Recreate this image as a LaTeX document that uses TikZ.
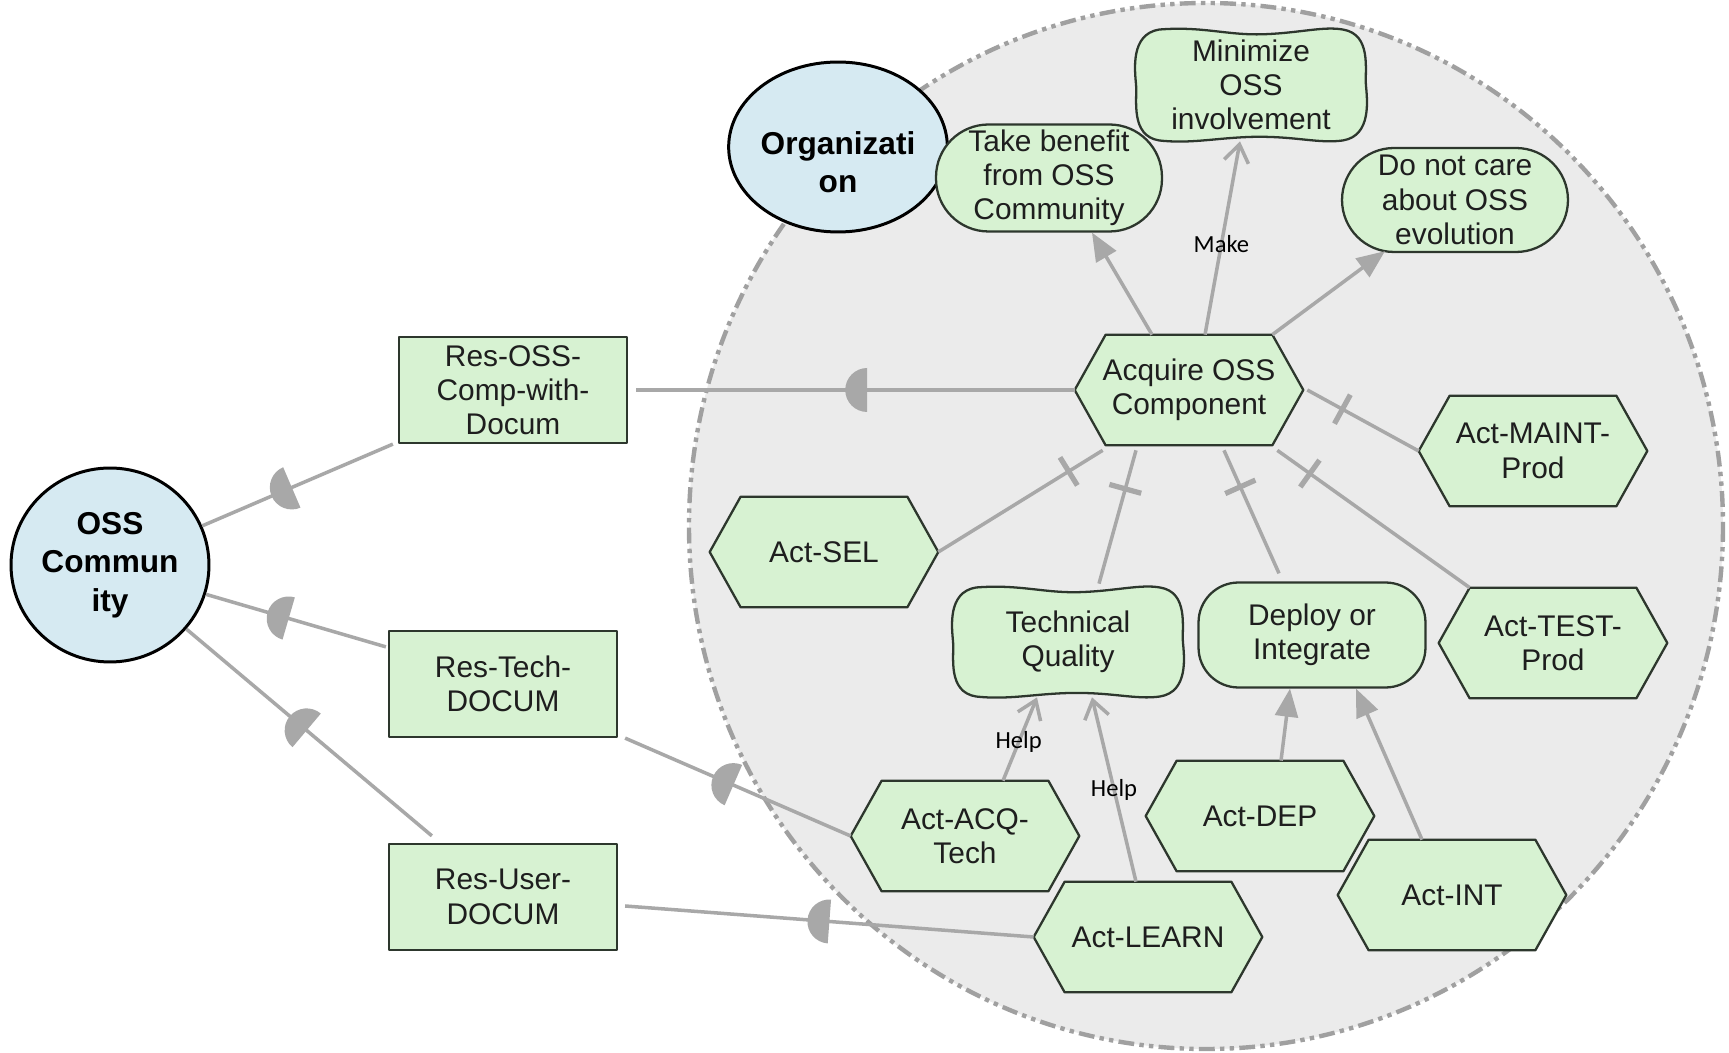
\documentclass[tikz,border=0pt]{standalone}
\usepackage{fontspec}
\setmainfont{Liberation Sans}
\newfontfamily\lblfont{Carlito}
\usetikzlibrary{arrows.meta,decorations.markings,shapes.geometric,calc}
\definecolor{gfill}{RGB}{215,242,210}
\definecolor{gline}{RGB}{45,55,45}
\definecolor{bfill}{RGB}{214,234,242}
\definecolor{bgfill}{RGB}{235,235,235}
\definecolor{conngray}{RGB}{168,168,168}
\definecolor{dashgray}{RGB}{160,160,160}
\definecolor{txt}{RGB}{30,30,30}
\pgfdeclarelayer{bglayer}
\pgfdeclarelayer{shapelayer}
\pgfsetlayers{bglayer,shapelayer,main}
\newcommand\hexshape[1]{%
  \begin{pgfonlayer}{shapelayer}
  \filldraw[shapeline] ([xshift=0.62cm]#1.north west) -- ([xshift=-0.62cm]#1.north east) -- (#1.east)
    -- ([xshift=-0.62cm]#1.south east) -- ([xshift=0.62cm]#1.south west) -- (#1.west) -- cycle;
  \end{pgfonlayer}}
\newcommand\cloudshape[3]{%
  \begin{pgfonlayer}{shapelayer}
  \filldraw[shapeline, shift={(#1.center)}, x=#2, y=#3]
      (-0.76,0.94) .. controls (-0.4,1) and (-0.2,0.84) .. (0.1,0.86)
      .. controls (0.4,0.88) and (0.6,1) .. (0.76,0.94)
      .. controls (1,0.86) and (0.94,0.24) .. (0.95,0)
      .. controls (0.96,-0.24) and (1,-0.86) .. (0.76,-0.94)
      .. controls (0.56,-1) and (0.36,-0.86) .. (0,-0.88)
      .. controls (-0.3,-0.9) and (-0.5,-1) .. (-0.76,-0.94)
      .. controls (-1,-0.86) and (-0.94,-0.24) .. (-0.95,0)
      .. controls (-0.96,0.24) and (-1,0.86) .. (-0.76,0.94) -- cycle;
  \end{pgfonlayer}}
\begin{document}
\begin{tikzpicture}[x=0.02cm,y=-0.02cm,
  base/.style={inner sep=0pt, align=center, text=txt, font=\fontsize{17}{19.5}\selectfont},
  actor/.style={shape=ellipse, draw=black, line width=1.7pt, fill=bfill, inner sep=0pt, align=center, text=black, font=\fontsize{18}{22}\selectfont\bfseries},
  shapeline/.style={fill=gfill, draw=gline, line width=1.3pt, line join=round},
  resbox/.style={base, shapeline, minimum width=4.56cm, minimum height=2.12cm},
  goalbox/.style={base, shapeline, rounded corners=#1, minimum width=4.52cm, minimum height=2.1cm},
  hexbox/.style={base, minimum width=4.56cm, minimum height=2.2cm},
  cloudbox/.style={base, minimum width=4.64cm, minimum height=#1},
  conn/.style={draw=conngray, line width=2pt},
  fillarrow/.style={conn, -{Triangle[length=16pt,width=13pt]}},
  openarrow/.style={conn, -{Straight Barb[length=10pt,width=14pt]}},
  lbl/.style={font=\lblfont\fontsize{14}{16}\selectfont, text=black, inner sep=1pt},
  dmark/.style={postaction={decorate, decoration={markings, mark=at position #1 with {\fill[conngray] (0,0.44cm) arc[start angle=90, end angle=270, radius=0.44cm] -- cycle;}}}},
  tickmark/.style={postaction={decorate, decoration={markings, mark=at position 0.8cm with {\draw[conngray, line width=3pt] (0,-0.33cm) -- (0,0.33cm);}}}},
]
\useasboundingbox (0,0) rectangle (1729,1053);
\begin{pgfonlayer}{bglayer}
\fill[white] (0,0) rectangle (1729,1053);
% organization boundary
\fill[bgfill] (1206,526) ellipse [x radius=517, y radius=523];
\draw[dashgray, line width=2.5pt, dash pattern=on 9pt off 3pt on 2.5pt off 3pt on 2.5pt off 3pt] (1206,526) ellipse [x radius=517, y radius=523];
\end{pgfonlayer}

% actors
\node[actor, minimum width=3.88cm, minimum height=3.4cm] (org) at (838,147) {\raisebox{-15pt}[0pt][0pt]{\begin{tabular}{@{}c@{}}Organizati\\on\end{tabular}}};
\node[actor, minimum width=3.96cm, minimum height=3.88cm] (osscomm) at (110,565) {OSS\\Commun\\ity};

% goals and softgoals
\node[cloudbox=2.24cm] (minimize) at (1251,85) {Minimize\\OSS\\involvement};
\cloudshape{minimize}{2.42cm}{1.18cm}
\node[goalbox=1.05cm, minimum height=2.14cm] (takeben) at (1049,178) {Take benefit\\from OSS\\Community};
\node[goalbox=1.04cm, minimum height=2.08cm] (donot) at (1455,200) {Do not care\\about OSS\\evolution};
\node[cloudbox=2.2cm] (techq) at (1068,642) {Technical\\Quality};
\cloudshape{techq}{2.42cm}{1.16cm}
\node[goalbox=0.8cm, minimum width=4.54cm] (deploy) at (1312,635) {Deploy or\\Integrate};

% tasks
\node[hexbox] (acquire) at (1189,390) {Acquire OSS\\Component};
\hexshape{acquire}
\node[hexbox] (actsel) at (824,552) {Act-SEL};
\hexshape{actsel}
\node[hexbox] (actmaint) at (1533,451) {Act-MAINT-\\Prod};
\hexshape{actmaint}
\node[hexbox] (acttest) at (1553,643) {Act-TEST-\\Prod};
\hexshape{acttest}
\node[hexbox] (actacq) at (965,836) {Act-ACQ-\\Tech};
\hexshape{actacq}
\node[hexbox] (actlearn) at (1148,937) {Act-LEARN};
\hexshape{actlearn}
\node[hexbox] (actdep) at (1260,816) {Act-DEP};
\hexshape{actdep}
\node[hexbox] (actint) at (1452,895) {Act-INT};
\hexshape{actint}

% resources
\node[resbox] (resoss) at (513,390) {Res-OSS-\\Comp-with-\\Docum};
\node[resbox] (restech) at (503,684) {Res-Tech-\\DOCUM};
\node[resbox] (resuser) at (503,897) {Res-User-\\DOCUM};

% means-end / contribution links
\draw[fillarrow] ([shift={(-37,0)}]acquire.north) -- ([shift={(43,0)}]takeben.south);
\draw[openarrow] ([shift={(16,0)}]acquire.north) -- node[lbl, pos=0.47]{Make} ([shift={(-11,0)}]minimize.south);
\draw[fillarrow] ([shift={(-31,0)}]acquire.north east) -- ([shift={(-70,-2)}]donot.south);

% decomposition links
\draw[conn, tickmark] ([shift={(28,5)}]acquire.south west) -- (actsel.east);
\draw[conn, tickmark] ([shift={(-53,5)}]acquire.south) -- ([shift={(31,-3)}]techq.north);
\draw[conn, tickmark] ([shift={(35,5)}]acquire.south) -- ([shift={(-33,-8)}]deploy.north);
\draw[conn, tickmark] ([shift={(-26,5)}]acquire.south east) -- ([shift={(31,0)}]acttest.north west);
\draw[conn, tickmark] ([shift={(4,0)}]acquire.east) -- (actmaint.west);

% help / means-end below
\draw[openarrow] ([shift={(38,0)}]actacq.north) -- node[lbl, pos=0.46]{Help} ([shift={(-31,0)}]techq.south);
\draw[openarrow] ([shift={(-12,0)}]actlearn.north) -- node[lbl, pos=0.5]{Help} ([shift={(24,0)}]techq.south);
\draw[fillarrow] ([shift={(21,0)}]actdep.north) -- ([shift={(-22,0)}]deploy.south);
\draw[fillarrow] ([shift={(-30,0)}]actint.north) -- ([shift={(44,0)}]deploy.south);

% dependencies
\draw[conn, dmark=0.47] (osscomm.23) -- ([shift={(-5,0)}]resoss.south west);
\draw[conn, dmark=0.46] (osscomm.-17) -- ([shift={(-2,17)}]restech.north west);
\draw[conn, dmark=0.49] (osscomm.-40) -- ([shift={(44,-7)}]resuser.north west);
\draw[conn, dmark=0.48] ([shift={(7,0)}]restech.south east) -- (actacq.west);
\draw[conn, dmark=0.5] ([shift={(7,9)}]resuser.east) -- (actlearn.west);
\draw[conn, dmark=0.527] ([shift={(8,0)}]resoss.east) -- (acquire.west);
\end{tikzpicture}
\end{document}
